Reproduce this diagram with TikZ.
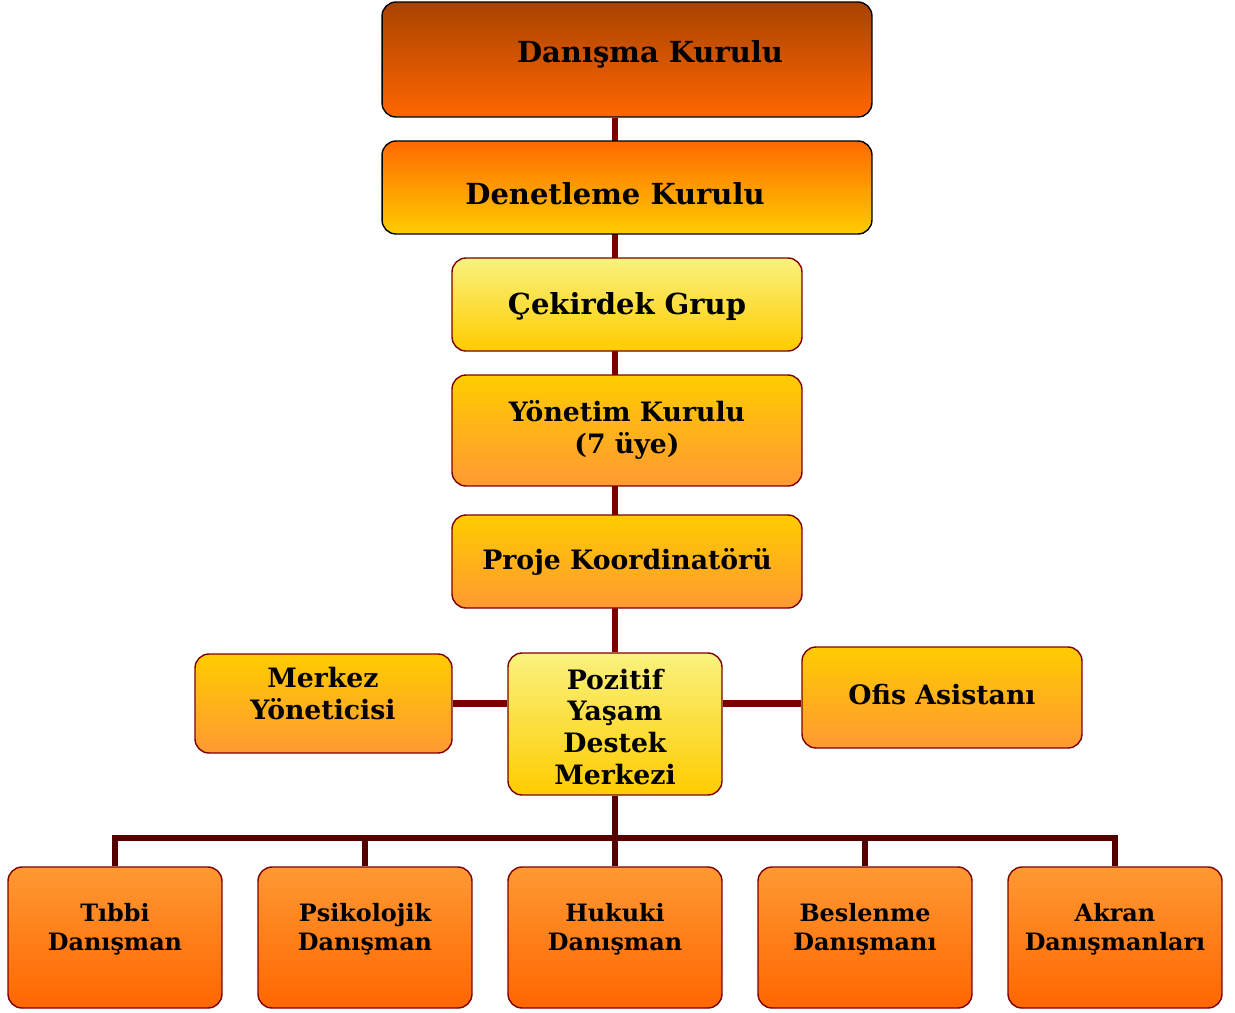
\documentclass[tikz,border=0pt]{standalone}
\usepackage{fontspec}
\setmainfont{DejaVu Serif}
\usetikzlibrary{positioning,backgrounds}

\definecolor{brownor}{HTML}{A84300}
\definecolor{deeporange}{HTML}{FF6600}
\definecolor{midorange}{HTML}{FF9933}
\definecolor{gold}{HTML}{FFCC00}
\definecolor{paleyellow}{HTML}{F9F27E}
\definecolor{hotorange}{HTML}{FF6A00}
\definecolor{frame}{HTML}{7F0000}
\definecolor{wire}{HTML}{7A0000}
\definecolor{buswire}{HTML}{560000}

\tikzset{
  unit/.style={draw=frame, line width=0.8pt, rounded corners=0.28cm, inner sep=0pt},
  topunit/.style={unit, draw=black, top color=brownor, bottom color=deeporange},
  auditunit/.style={unit, draw=black, top color=hotorange, bottom color=gold},
  paleunit/.style={unit, top color=paleyellow, bottom color=gold},
  goldunit/.style={unit, top color=gold, bottom color=midorange},
  advisor/.style={unit, top color=midorange, bottom color=deeporange,
    minimum width=4.28cm, minimum height=2.82cm},
  bigtxt/.style={font=\fontsize{16.5}{18}\selectfont\bfseries, align=center},
  midtxt/.style={font=\fontsize{15.2}{18.2}\selectfont\bfseries, align=center},
  smalltxt/.style={font=\fontsize{13.6}{16.5}\selectfont\bfseries, align=center},
  link/.style={wire, line width=3.2pt},
  sidelink/.style={wire, line width=3.8pt},
  buslink/.style={buswire, line width=3pt}
}

\begin{document}
\begin{tikzpicture}[x=0.02cm, y=-0.02cm]
\useasboundingbox (0,0) rectangle (1235,1012);

% Upper chain of boards
\node[topunit, minimum width=9.8cm, minimum height=2.3cm] (dk) at (627,59.5) {};
\node[bigtxt] (dk-t) at (650,54) {Danışma Kurulu};
\node[auditunit, minimum width=9.8cm, minimum height=1.86cm] (denk) at (627,187.5) {};
\node[bigtxt] (denk-t) at (615,194) {Denetleme Kurulu};
\node[paleunit, minimum width=7cm, minimum height=1.86cm] (cg) at (627,304.5) {};
\node[bigtxt] (cg-t) at (627,306) {Çekirdek Grup};
\node[goldunit, minimum width=7cm, minimum height=2.22cm] (yk) at (627,430.5) {};
\node[midtxt] (yk-t) at (627,430) {Yönetim Kurulu\\(7 üye)};
\node[goldunit, minimum width=7cm, minimum height=1.86cm] (pk) at (627,561.5) {};
\node[midtxt] (pk-t) at (627,562) {Proje Koordinatörü};

% Centre row
\node[paleunit, minimum width=4.28cm, minimum height=2.84cm] (pyd) at (615,724) {};
\node[midtxt] (pyd-t) at (615,727) {Pozitif\\Yaşam\\Destek\\Merkezi};
\node[goldunit, minimum width=5.14cm, minimum height=1.98cm] (my) at (323.5,703.5) {};
\node[midtxt] (my-t) at (323,694) {Merkez\\Yöneticisi};
\node[goldunit, minimum width=5.6cm, minimum height=2.02cm] (oa) at (942,697.5) {};
\node[midtxt] (oa-t) at (942,695) {Ofis Asistanı};

% Advisors
\foreach \n/\x/\t in {tb/115/{Tıbbi\\Danışman}, ps/365/{Psikolojik\\Danışman},
    hk/615/{Hukuki\\Danışman}, bs/865/{Beslenme\\Danışmanı}, ak/1115/{Akran\\Danışmanları}} {
  \node[advisor] (\n) at (\x,937.5) {};
  \node[smalltxt] (\n-t) at (\x,929) {\t};
}

% Connectors, behind the boxes
\begin{pgfonlayer}{background}
\draw[link] (dk.south -| pyd.north) -- (pyd.north);
\draw[sidelink] (my.east) -- (my.east -| pyd.west);
\draw[sidelink] (pyd.east |- my.east) -- (oa.west |- my.east);
\coordinate (bus) at (615,838);
\draw[buslink] (pyd.south) -- (hk.north);
\draw[buslink] (tb.north) |- (bus) -| (ak.north);
\draw[buslink] (ps.north) -- (ps.north |- bus);
\draw[buslink] (bs.north) -- (bs.north |- bus);
\end{pgfonlayer}
\end{tikzpicture}
\end{document}
